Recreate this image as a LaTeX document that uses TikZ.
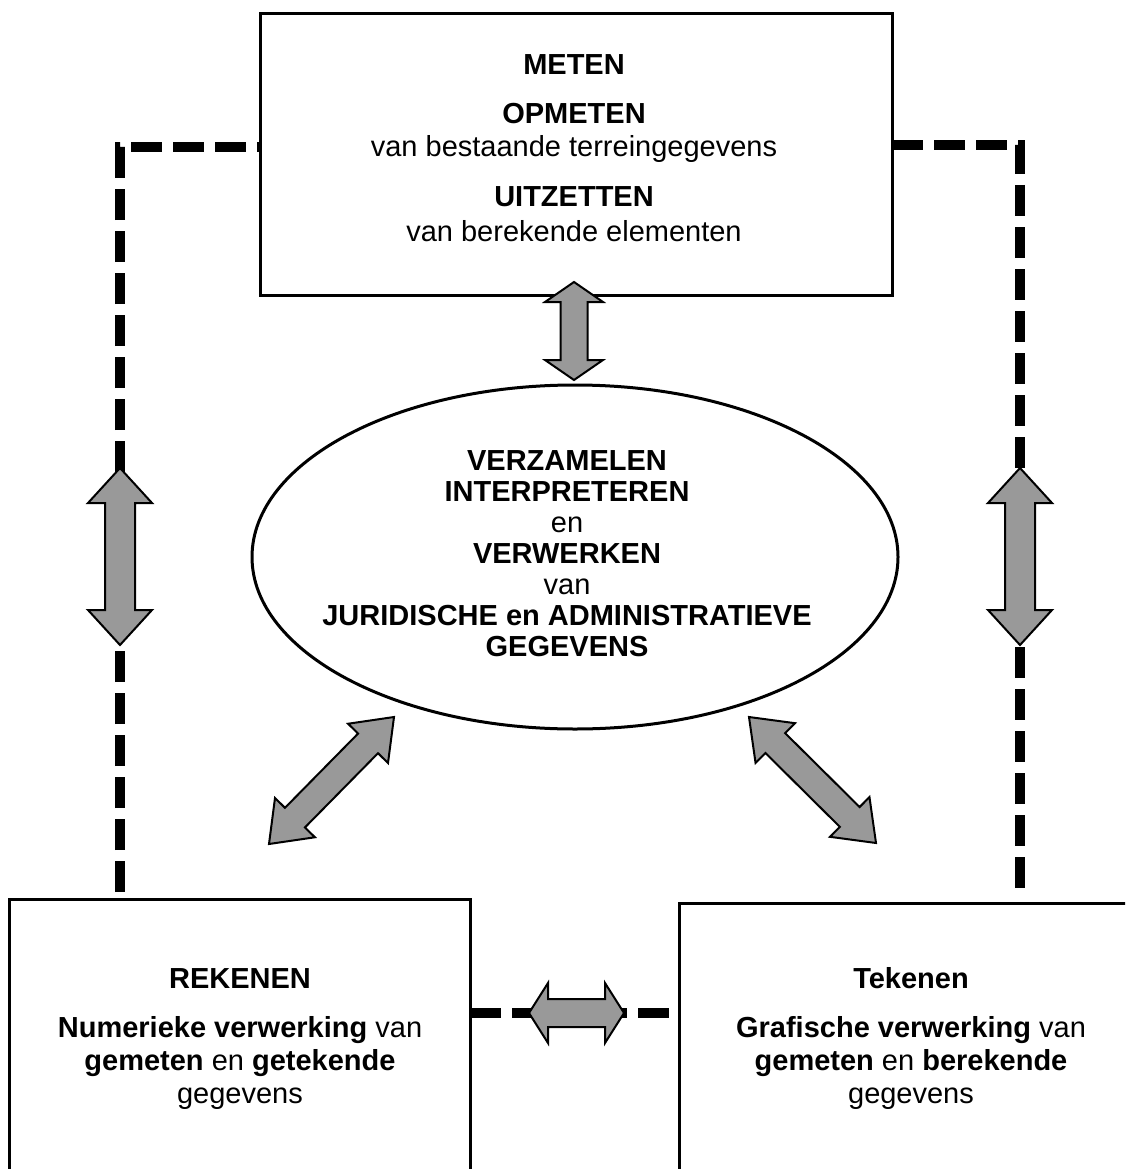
\documentclass[tikz,border=0pt]{standalone}
\usepackage{fontspec}
\setmainfont{Liberation Sans}
\usetikzlibrary{calc,shapes.geometric}
\definecolor{arrowgray}{RGB}{153,153,153}
\tikzset{
  box/.style={draw, line width=3pt, inner sep=0pt, outer sep=0pt},
  dashline/.style={line width=9.5pt, dash pattern=on 31pt off 11pt},
  blk/.style={fill=arrowgray, draw=black, line width=2pt, line join=miter},
  lbl/.style={anchor=base, font=\fontsize{29}{33}\selectfont, inner sep=0pt},
}
\newcommand\blkarrow[5]{%
  \filldraw[blk] (#1)
    -- ($(#1)!#3!(#2)!#4!90:(#2)$)
    -- ($(#1)!#3!(#2)!#5!90:(#2)$)
    -- ($(#2)!#3!(#1)!#5!-90:(#1)$)
    -- ($(#2)!#3!(#1)!#4!-90:(#1)$)
    -- (#2)
    -- ($(#2)!#3!(#1)!#4!90:(#1)$)
    -- ($(#2)!#3!(#1)!#5!90:(#1)$)
    -- ($(#1)!#3!(#2)!#5!-90:(#2)$)
    -- ($(#1)!#3!(#2)!#4!-90:(#2)$)
    -- cycle;}
\begin{document}
\begin{tikzpicture}[x=1pt, y=-1pt]
\useasboundingbox (0,0) rectangle (1125,1169);
\clip (0,0) rectangle (1125,1169);
\fill[white] (0,0) rectangle (1125,1169);

% boxes
\node[box, minimum width=632pt, minimum height=281pt, anchor=north west] (top) at (260,14) {};
\node[box, minimum width=461pt, minimum height=320pt, anchor=north west] (bl) at (9,899) {};
\node[box, minimum width=462pt, minimum height=320pt, anchor=north west] (br) at (679,903) {};
\node[ellipse, draw, line width=3pt, minimum width=646pt, minimum height=344pt, inner sep=0pt] (ell) at (575,557) {};

% dashed connectors
\coordinate (lc) at (120,147);
\coordinate (rc) at (1020,145);
\coordinate (mid) at (0,1013);
\draw[dashline] ([yshift=7pt]lc |- bl.north) -- (lc) -- (lc -| top.west);
\draw[dashline] (rc -| top.east) -- (rc) -- ([yshift=10pt]rc |- br.north);
\draw[dashline] (mid -| bl.east) -- (mid -| br.west);

% block arrows
\coordinate (a1) at (574,282); \coordinate (b1) at (574,380);
\coordinate (a2) at (120,468); \coordinate (b2) at (120,645);
\coordinate (a3) at (1020,468); \coordinate (b3) at (1020,645);
\coordinate (a4) at (394,717); \coordinate (b4) at (269,844);
\coordinate (a5) at (749,717); \coordinate (b5) at (876,843);
\coordinate (a6) at (529,1013); \coordinate (b6) at (624,1013);
\blkarrow{a1}{b1}{20pt}{29pt}{13.5pt}
\blkarrow{a2}{b2}{35pt}{32pt}{15pt}
\blkarrow{a3}{b3}{35pt}{32pt}{15pt}
\blkarrow{a4}{b4}{37pt}{28pt}{14pt}
\blkarrow{a5}{b5}{37pt}{28pt}{14pt}
\blkarrow{a6}{b6}{19pt}{30pt}{14pt}

% top box text
\node[lbl] (t1) at (574,75) {\textbf{METEN}};
\node[lbl] (t2) at (574,124) {\textbf{OPMETEN}};
\node[lbl] (t3) at (574,157) {van bestaande terreingegevens};
\node[lbl] (t4) at (574,207) {\textbf{UITZETTEN}};
\node[lbl] (t5) at (574,241) {van berekende elementen};

% ellipse text
\node[lbl] (e1) at (567,470) {\textbf{VERZAMELEN}};
\node[lbl] (e2) at (567,501) {\textbf{INTERPRETEREN}};
\node[lbl] (e3) at (567,532) {en};
\node[lbl] (e4) at (567,563) {\textbf{VERWERKEN}};
\node[lbl] (e5) at (567,594) {van};
\node[lbl] (e6) at (567,625) {\textbf{JURIDISCHE en ADMINISTRATIEVE}};
\node[lbl] (e7) at (567,656) {\textbf{GEGEVENS}};

% bottom left text
\node[lbl] (l1) at (240,988) {\textbf{REKENEN}};
\node[lbl] (l2) at (240,1037) {\textbf{Numerieke verwerking} van};
\node[lbl] (l3) at (240,1070) {\textbf{gemeten} en \textbf{getekende}};
\node[lbl] (l4) at (240,1103) {gegevens};

% bottom right text
\node[lbl] (r1) at (911,988) {\textbf{Tekenen}};
\node[lbl] (r2) at (911,1037) {\textbf{Grafische verwerking} van};
\node[lbl] (r3) at (911,1070) {\textbf{gemeten} en \textbf{berekende}};
\node[lbl] (r4) at (911,1103) {gegevens};
\end{tikzpicture}
\end{document}
